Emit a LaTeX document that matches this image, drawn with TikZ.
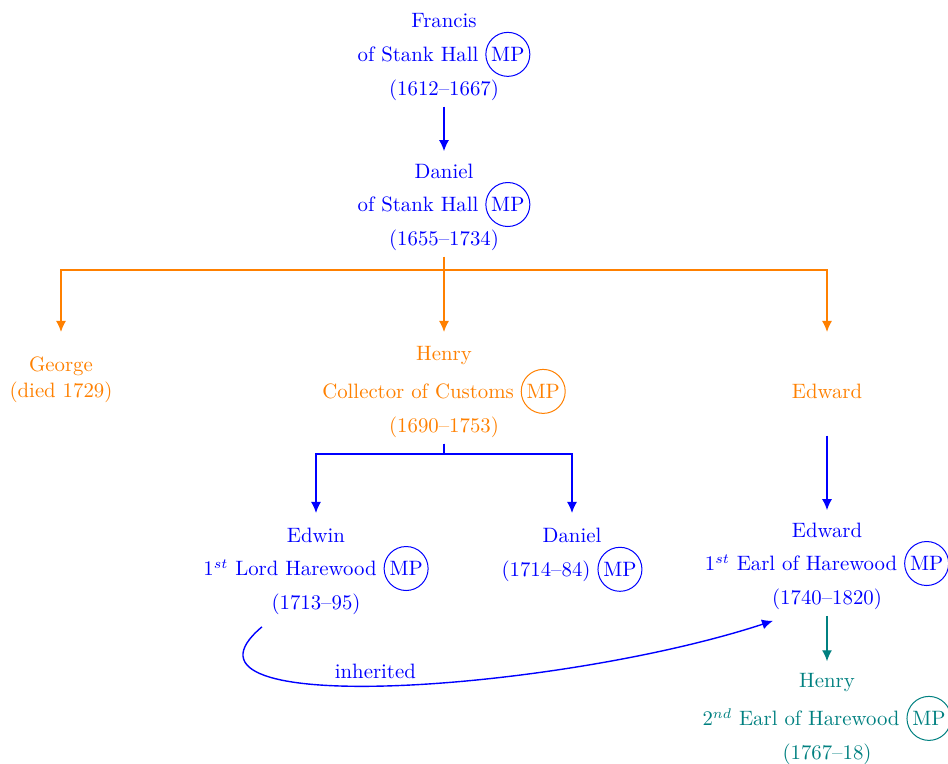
\documentclass[tikz,border=0pt]{standalone}
\usetikzlibrary{arrows.meta,calc}
\definecolor{cblue}{RGB}{0,0,255}
\definecolor{corange}{RGB}{255,128,0}
\definecolor{cteal}{RGB}{0,128,128}
\newcommand\mpbadge[1]{\smash{\tikz[baseline=(mpb.base)]\node[draw=#1,text=#1,circle,inner sep=0pt,minimum size=22pt,line width=0.5pt,anchor=base](mpb){MP};}}
\tikzset{
  person/.style={align=center,inner sep=3pt,font=\fontsize{10.4pt}{16.8pt}\selectfont},
  conn/.style={line width=0.7pt,-{Latex[length=5.5pt,width=5pt]}},
}
\begin{document}
\begin{tikzpicture}[x=0.5pt,y=-0.5pt]
\useasboundingbox (0,0) rectangle (948,764);
% people
\node[person,text=cblue] (Francis) at (444,57) {Francis\\of Stank Hall \mpbadge{cblue}\\(1612--1667)};
\node[person,text=cblue] (Daniel) at (444,207) {Daniel\\of Stank Hall \mpbadge{cblue}\\(1655--1734)};
\node[person,text=corange,font=\fontsize{10.4pt}{13pt}\selectfont] (George) at (61,380) {George\\(died 1729)};
\node[person,text=corange] (Henry) at (444,392) {Henry\\[2pt]Collector of Customs \mpbadge{corange}\\(1690--1753)};
\node[person,text=corange] (EdwardO) at (827,391) {Edward};
\node[person,text=cblue] (Edwin) at (316,571) {Edwin\\1$^{st}$ Lord Harewood \mpbadge{cblue}\\(1713--95)};
\node[person,text=cblue] (DanielB) at (572,555) {Daniel\\(1714--84) \mpbadge{cblue}};
\node[person,text=cblue] (EdwardB) at (827,566) {Edward\\1$^{st}$ Earl of Harewood \mpbadge{cblue}\\(1740--1820)};
\node[person,text=cteal] (HenryT) at (827,719) {Henry\\[2pt]2$^{nd}$ Earl of Harewood \mpbadge{cteal}\\(1767--18)};
% helper rows
\coordinate (obar) at (444,270);
\coordinate (orow) at (444,332);
\coordinate (bbar) at (444,454);
\coordinate (brow) at (444,513);
% connectors
\draw[conn,cblue,shorten >=3pt] (Francis.south) -- (Daniel.north);
\draw[conn,corange] (Daniel.south) |- (George |- obar) -- (George |- orow);
\draw[conn,corange] (Daniel.south) -- (Henry |- orow);
\draw[conn,corange] (Daniel.south) |- (EdwardO |- obar) -- (EdwardO |- orow);
\draw[conn,cblue] (Henry.south) |- (Edwin |- bbar) -- (Edwin |- brow);
\draw[conn,cblue] (Henry.south) |- (DanielB |- bbar) -- (DanielB |- brow);
\draw[conn,cblue,shorten <=15.5pt,shorten >=3pt] (EdwardO.south) -- (EdwardB.north);
\draw[conn,cteal,shorten >=3pt] (EdwardB.south) -- (HenryT.north);
\draw[conn,cblue] ($(Edwin.south)+(-54,6)$) .. controls +(-112,94) and +(-213,70) .. node[pos=0.47,above,font=\fontsize{10.4pt}{13pt}\selectfont] (inh) {inherited} ($(EdwardB.south)+(-54,5)$);
\end{tikzpicture}
\end{document}
